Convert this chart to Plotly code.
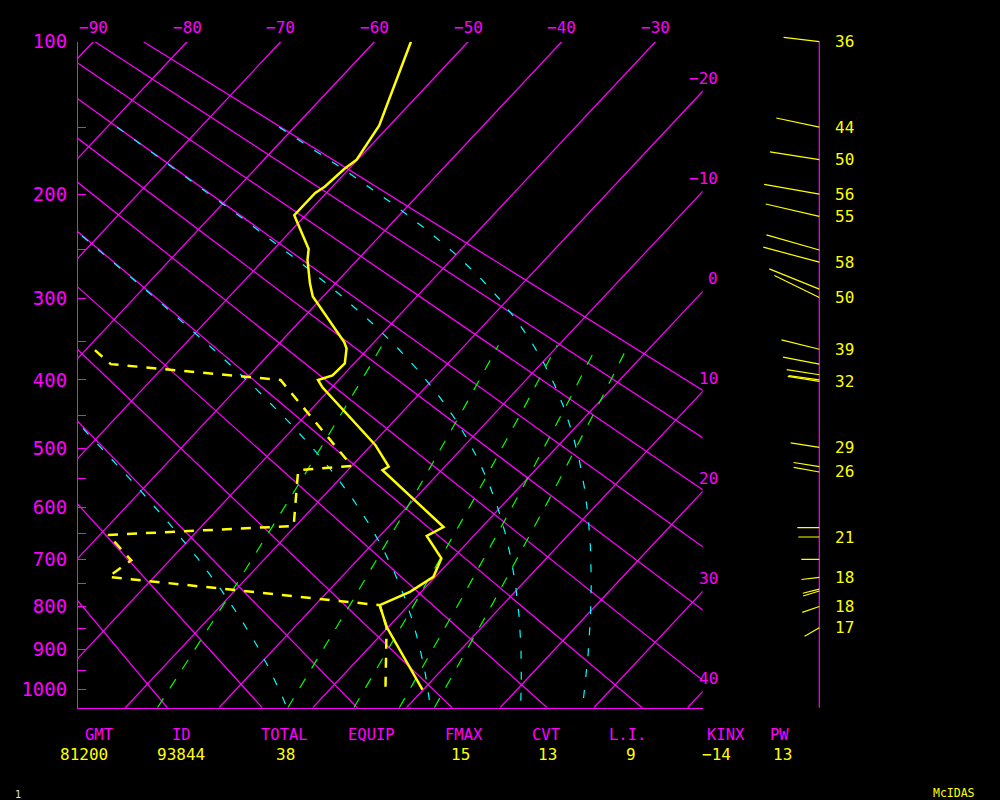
import numpy as np
import plotly.graph_objects as go

# ---------------- sounding data ----------------
temp_p = [100, 149, 173, 180, 194, 199, 218, 249, 260, 284, 298, 351, 359,
          378, 394, 400, 410, 495, 530, 536, 637, 654, 698, 736, 768, 797,
          846, 1000]
temp_c = [-56.1, -51.1, -50.1, -50.5, -50.8, -51.2, -51.2, -46.3, -45.3,
          -42.7, -41.1, -33.2, -32.3, -31.0, -31.1, -32.2, -31.0, -19.6,
          -16.0, -16.3, -4.1, -5.0, -1.2, -0.2, -1.2, -3.1, -0.2, 9.9]

dewp_p = [361, 379, 400, 529, 536, 635, 652, 702, 736, 797, 846, 996, 1000]
dewp_c = [-59.0, -55.9, -36.2, -20.0, -25.3, -20.2, -39.1, -34.1, -34.9,
          -3.1, -0.2, 5.8, 6.6]

wind_p = [100, 150, 173, 200, 219, 250, 262, 290, 299, 360, 379, 393, 400,
          402, 499, 530, 539, 638, 656, 700, 737, 762, 766, 800, 848]
wind_dir = [277, 282, 279, 280, 283, 286, 285, 292, 296, 284, 281, 279, 278,
            279, 279, 279, 280, 270, 270, 270, 263, 256, 253, 251, 240]
wind_kt = [36, 44, 50, 56, 55, 55, 58, 54, 50, 39, 37, 33, 31,
           32, 29, 26, 26, 22, 21, 18, 18, 17, 17, 18, 17]
wind_lbl = ["36", "44", "50", "56", "55", "", "58", "", "50", "39", "", "", "",
            "32", "29", "", "26", "", "21", "", "18", "", "", "18", "17"]

# background diagram families
isotherm_c = [-90, -80, -70, -60, -50, -40, -30, -20, -10, 0, 10, 20, 30, 40]
dry_theta_k = [254.2, 264.2, 274.2, 284.2, 294.2, 304.2, 314.2, 324.2,
               334.2, 344.2, 354.2, 364.2]
moist_thetae_k = [274.2, 304.2, 334.2, 364.2]
mixing_gkg = [1, 3, 5, 7, 9]
pressure_ticks = [100, 150, 200, 250, 300, 350, 400, 450, 500, 550, 600, 650,
                  700, 750, 800, 850, 900, 950, 1000]
top_labels_t = [-90, -80, -70, -60, -50, -40, -30]
right_labels_t = [-20, -10, 0, 10, 20, 30, 40]

hdr_names = ["GMT", "ID", "TOTAL", "EQUIP", "FMAX", "CVT", "L.I.", "KINX", "PW"]
hdr_vals = ["81200", "93844", "38", "", "15", "13", "9", "-14", "13"]

# ---------------- layout constants ----------------
FIG_W, FIG_H = 1000, 800
X_DOM = [0.078, 0.7027]
Y_DOM = [0.115375, 0.947875]
KAPPA = 0.286
P_TOP, P_BOT = 100.0, 1048.0
P_MOIST_TOP, P_MIX_TOP = 150.0, 355.0
SKEW = 18.62            # deg C of skew per unit of p**kappa
X_LEFT, X_RIGHT = -91.633, -24.963
MAG, YEL, CYA, GRN = "#ff00ff", "#ffff00", "#00ffff", "#00ff00"
FONT = "DejaVu Sans Mono"
hdr_name_px = [99, 181, 284, 371, 464, 546, 627, 726, 779]
hdr_val_px = [84, 180.5, 285, 371, 460.5, 547.5, 631, 716, 782.5]
WIND_PAD_PX = 12


def pk(p):
    return np.power(np.asarray(p, dtype=float), KAPPA)


Y_TOP, Y_BOT = float(pk(P_TOP)), float(pk(P_BOT))
Y_1000 = float(pk(1000.0))
PX_PER_Y = FIG_H * (Y_DOM[1] - Y_DOM[0]) / (Y_BOT - Y_TOP)


def skew_x(t, y):
    return np.asarray(t, dtype=float) - (np.asarray(y, dtype=float) - Y_TOP) * SKEW


def minus(s):
    return str(s).replace("-", "\u2212")


def join(xs_list, ys_list):
    X, Y = [], []
    for xs, ys in zip(xs_list, ys_list):
        X += list(xs) + [None]
        Y += list(ys) + [None]
    return X, Y


# thermodynamics for the saturated adiabats and mixing-ratio lines
EPS, CP, LV = 0.622, 1005.7, 2.5e6


def es(tc):
    return 6.112 * np.exp(17.67 * tc / (tc + 243.5))


def thetae(tk, p):
    e = es(tk - 273.15)
    rs = EPS * e / (p - e)
    return tk * (1000.0 / p) ** KAPPA * np.exp(LV * rs / (CP * tk))


def t_on_thetae(the, p):
    lo = np.full_like(p, 150.0)
    hi = np.full_like(p, 330.0)
    for _ in range(60):
        mid = 0.5 * (lo + hi)
        f = thetae(mid, p) - the
        hi = np.where(f > 0, mid, hi)
        lo = np.where(f > 0, lo, mid)
    return 0.5 * (lo + hi)


fig = go.Figure()

# isotherms + dry adiabats (magenta)
yy = np.linspace(Y_TOP, Y_BOT, 40)
xs_l, ys_l = [], []
for t in isotherm_c:
    xs_l.append(skew_x(np.full_like(yy, t), yy)); ys_l.append(yy)
for th in dry_theta_k:
    tc = th * yy / Y_1000 - 273.15
    xs_l.append(skew_x(tc, yy)); ys_l.append(yy)
X, Y = join(xs_l, ys_l)
fig.add_trace(go.Scatter(x=X, y=Y, mode="lines", line=dict(color=MAG, width=1.25),
                         hoverinfo="skip"))

# saturated adiabats (lines of constant equivalent potential temperature)
ps = np.linspace(P_MOIST_TOP, P_BOT, 300)
for the in moist_thetae_k:
    ts = t_on_thetae(the, ps) - 273.15
    fig.add_trace(go.Scatter(x=skew_x(ts, pk(ps)), y=pk(ps), mode="lines",
                             line=dict(color=CYA, width=1.2, dash="8px,13px"),
                             hoverinfo="skip"))

# mixing-ratio lines (green dashed)
pm = np.linspace(P_BOT, P_MIX_TOP, 60)
for w in mixing_gkg:
    e = w * pm / (622.0 + w)
    a = np.log(e / 6.112)
    tdw = 243.5 * a / (17.67 - a)
    fig.add_trace(go.Scatter(x=skew_x(tdw, pk(pm)), y=pk(pm), mode="lines",
                             line=dict(color=GRN, width=1.2, dash="11px,12px"),
                             hoverinfo="skip"))

# temperature and dew point
fig.add_trace(go.Scatter(x=skew_x(temp_c, pk(temp_p)), y=pk(temp_p), mode="lines",
                         line=dict(color=YEL, width=2.5), hoverinfo="skip"))
fig.add_trace(go.Scatter(x=skew_x(dewp_c, pk(dewp_p)), y=pk(dewp_p), mode="lines",
                         line=dict(color=YEL, width=2.5, dash="10px,9px"),
                         hoverinfo="skip"))

# wind column on its own axes (same vertical scale, a little padding so the
# top stick is not clipped): axis + direction sticks (1 px per knot)
pad_y = WIND_PAD_PX / PX_PER_Y
fig.add_trace(go.Scatter(x=[0, 0], y=[Y_TOP, Y_BOT], xaxis="x2", yaxis="y2",
                         mode="lines", line=dict(color=MAG, width=1.2), hoverinfo="skip"))
wx, wy = [], []
for p, d, s in zip(wind_p, wind_dir, wind_kt):
    r = np.deg2rad(d)
    east, north = s * np.sin(r), s * np.cos(r)
    y0 = float(pk(p))
    wx += [0, east, None]
    wy += [y0, y0 - north / PX_PER_Y, None]
fig.add_trace(go.Scatter(x=wx, y=wy, xaxis="x2", yaxis="y2", mode="lines",
                         line=dict(color=YEL, width=1.2), hoverinfo="skip"))

ann = []
for t in top_labels_t:
    ann.append(dict(x=float(skew_x(t, Y_TOP)), y=Y_TOP, xref="x", yref="y",
                    text=minus(t), showarrow=False, yshift=14, xanchor="center",
                    yanchor="middle", font=dict(family=FONT, size=16, color=MAG)))
for t in right_labels_t:
    yint = Y_TOP + (t - X_RIGHT) / SKEW
    ann.append(dict(x=X_RIGHT, y=yint, xref="x", yref="y", text=minus(t),
                    showarrow=False, xshift=17, yshift=13, xanchor="right",
                    yanchor="middle", font=dict(family=FONT, size=16, color=MAG)))
for p, lbl in zip(wind_p, wind_lbl):
    if lbl:
        ann.append(dict(x=13.5, y=float(pk(p)), xref="x2", yref="y2", text=lbl,
                        showarrow=False, xanchor="left", yanchor="middle",
                        font=dict(family=FONT, size=16, color=YEL)))
for name, xp in zip(hdr_names, hdr_name_px):
    ann.append(dict(x=xp / FIG_W, y=1 - 735 / FIG_H, xref="paper", yref="paper",
                    text=name, showarrow=False, xanchor="center", yanchor="middle",
                    font=dict(family=FONT, size=15.5, color=MAG)))
for val, xp in zip(hdr_vals, hdr_val_px):
    if val:
        ann.append(dict(x=xp / FIG_W, y=1 - 754.5 / FIG_H, xref="paper", yref="paper",
                        text=minus(val), showarrow=False, xanchor="center",
                        yanchor="middle", font=dict(family=FONT, size=16, color=YEL)))
ann.append(dict(x=954 / FIG_W, y=1 - 792.5 / FIG_H, xref="paper", yref="paper",
                text="McIDAS", showarrow=False, xanchor="center", yanchor="middle",
                font=dict(family=FONT, size=11.5, color=YEL)))
ann.append(dict(x=18 / FIG_W, y=1 - 794 / FIG_H, xref="paper", yref="paper",
                text="1", showarrow=False, xanchor="center", yanchor="middle",
                font=dict(family=FONT, size=10, color="#e0e0e0")))

fig.update_layout(
    width=FIG_W, height=FIG_H, autosize=False,
    paper_bgcolor="black", plot_bgcolor="black",
    margin=dict(l=0, r=0, t=0, b=0, pad=0, autoexpand=False),
    showlegend=False, hovermode=False,
    xaxis=dict(domain=X_DOM, range=[X_LEFT, X_RIGHT], showgrid=False,
               zeroline=False, showticklabels=False, ticks="", automargin=False,
               showline=True, linecolor=MAG, linewidth=1, fixedrange=True),
    yaxis=dict(domain=Y_DOM, range=[Y_BOT, Y_TOP], showgrid=False,
               zeroline=False, tickmode="array", automargin=False,
               tickvals=[float(v) for v in pk(pressure_ticks)],
               ticktext=[str(p) if p % 100 == 0 else "" for p in pressure_ticks],
               ticks="inside", ticklen=8, tickwidth=1, tickcolor=MAG,
               showline=True, linecolor=MAG, linewidth=1,
               tickfont=dict(family=FONT, size=19, color=MAG),
               ticklabelstandoff=6, fixedrange=True),
    xaxis2=dict(domain=[0.74, 1.0], range=[-79.3, 180.7], anchor="y2",
                showgrid=False, zeroline=False, showticklabels=False,
                ticks="", showline=False, fixedrange=True, automargin=False),
    yaxis2=dict(domain=[Y_DOM[0] - WIND_PAD_PX / FIG_H, Y_DOM[1] + WIND_PAD_PX / FIG_H],
                range=[Y_BOT + pad_y, Y_TOP - pad_y], anchor="x2",
                showgrid=False, zeroline=False, showticklabels=False,
                ticks="", showline=False, fixedrange=True, automargin=False),
    annotations=ann,
)

fig.write_html(
    "out.html",
    config={"displayModeBar": False},
    post_script=("document.documentElement.style.background='black';"
                 "document.body.style.background='black';"
                 "document.body.style.margin='0';"
                 "document.body.style.overflow='hidden';"),
)
